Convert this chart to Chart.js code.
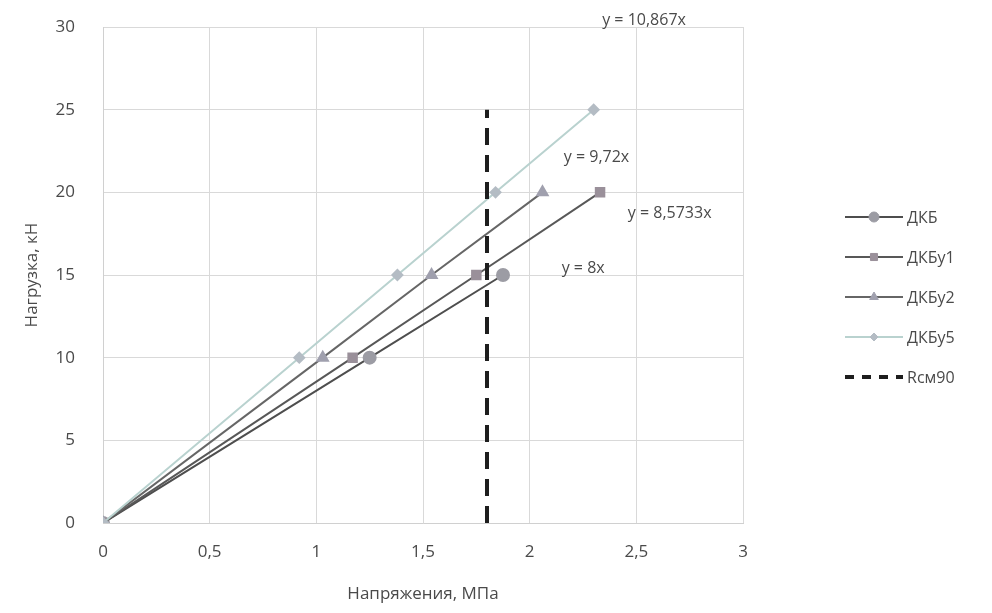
<!DOCTYPE html>
<html lang="ru">
<head>
  <meta charset="UTF-8" />
  <title>Нагрузка – напряжения</title>
  <script src="https://cdn.jsdelivr.net/npm/chart.js@4.4.0/dist/chart.umd.min.js"></script>
  <style>
    html, body { margin: 0; padding: 0; background: #fff; }
    #wrap { width: 992px; height: 613px; position: relative; }
  </style>
</head>
<body>
<div id="wrap"><canvas id="chart"></canvas></div>
<script>
// load steps, kN
const loads = [0, 10, 15, 20, 25];

// stresses, MPa, per specimen
const dkb   = [0, 1.25, 1.875];
const dkbU1 = [0, 1.17, 1.75, 2.33];
const dkbU2 = [0, 1.03, 1.54, 2.06];
const dkbU5 = [0, 0.92, 1.38, 1.84, 2.3];

// Rсм90 limit line
const rcmX = 1.8;
const rcmY = [0, 25];

const seriesNames = ['ДКБ', 'ДКБу1', 'ДКБу2', 'ДКБу5', 'Rсм90'];
const trendTexts = ['y = 8x', 'y = 8,5733x', 'y = 9,72x', 'y = 10,867x'];
// where each trend equation sits (x, y in axis units)
const trendX = [2.15, 2.46, 2.16, 2.34];
const trendY = [15.4, 18.75, 22.1, 30.4];

const xTicks = ['0', '0,5', '1', '1,5', '2', '2,5', '3'];

const FONT = "'Open Sans', 'Liberation Sans', sans-serif";
const TXT = '#4a4a4a';

const toPts = (xs) => xs.map((x, i) => ({ x, y: loads[i] }));

const styles = [
  { line: '#4e4e4e', fill: '#9c9ca4', point: 'circle', r: 6 },
  { line: '#585858', fill: '#9a909a', point: 'rect', r: 6 },
  { line: '#666666', fill: '#a0a0ae', point: 'triangle', r: 6 },
  { line: '#b9d2cf', fill: '#b4bcc4', point: 'rectRot', r: 5 }
];

const datasets = [dkb, dkbU1, dkbU2, dkbU5].map((xs, i) => ({
  label: seriesNames[i],
  data: toPts(xs),
  borderColor: styles[i].line,
  backgroundColor: styles[i].fill,
  pointBackgroundColor: styles[i].fill,
  pointBorderColor: styles[i].fill,
  pointStyle: styles[i].point,
  pointRadius: styles[i].r,
  borderWidth: 2,
  showLine: true,
  order: 4 - i
}));

datasets.push({
  label: seriesNames[4],
  data: rcmY.map(y => ({ x: rcmX, y })),
  borderColor: '#1e1e1e',
  borderWidth: 4,
  borderDash: [17, 10],
  pointRadius: 0,
  showLine: true,
  order: 0
});

// trend equations next to each series
const trendLabels = {
  id: 'trendLabels',
  afterDatasetsDraw(chart) {
    const { ctx, scales: { x, y } } = chart;
    ctx.save();
    ctx.font = '16px ' + FONT;
    ctx.fillStyle = TXT;
    ctx.textBaseline = 'middle';
    trendTexts.forEach((t, i) => {
      ctx.fillText(t, x.getPixelForValue(trendX[i]), y.getPixelForValue(trendY[i]));
    });
    ctx.restore();
  }
};

// Excel-like legend: line sample with marker in the middle
const sideLegend = {
  id: 'sideLegend',
  afterDraw(chart) {
    const { ctx, chartArea } = chart;
    const x0 = chartArea.right + 102;
    const top = 217;
    const step = 40;
    ctx.save();
    chart.data.datasets.forEach((ds, i) => {
      const yy = top + i * step;
      ctx.strokeStyle = ds.borderColor;
      ctx.lineWidth = ds.borderWidth;
      ctx.setLineDash(ds.borderDash ? [9, 8] : []);
      ctx.beginPath();
      ctx.moveTo(x0, yy);
      ctx.lineTo(x0 + 58, yy);
      ctx.stroke();
      ctx.setLineDash([]);
      if (ds.pointRadius) {
        ctx.fillStyle = ds.pointBackgroundColor;
        ctx.strokeStyle = ds.pointBorderColor;
        ctx.lineWidth = 1;
        Chart.helpers.drawPoint(ctx, {
          pointStyle: ds.pointStyle, radius: ds.pointRadius - 1, rotation: 0, borderWidth: 1
        }, x0 + 29, yy);
      }
      ctx.font = '16px ' + FONT;
      ctx.fillStyle = TXT;
      ctx.textBaseline = 'middle';
      ctx.fillText(ds.label, x0 + 62, yy + 1);
    });
    ctx.restore();
  }
};

new Chart(document.getElementById('chart'), {
  type: 'scatter',
  data: { datasets },
  options: {
    responsive: true,
    maintainAspectRatio: false,
    animation: false,
    layout: { padding: { top: 27, right: 249, left: 0, bottom: 0 } },
    plugins: {
      legend: { display: false },
      tooltip: { enabled: false }
    },
    scales: {
      x: {
        type: 'linear',
        min: 0, max: 3,
        afterFit(s) { s.height = 90; s.paddingLeft = 0; s.paddingRight = 0; },
        grid: { color: '#d9d9d9', drawTicks: false },
        border: { color: '#d0d0d0' },
        ticks: {
          stepSize: 0.5,
          padding: 19,
          color: TXT,
          font: { family: FONT, size: 17 },
          callback: (v) => xTicks[Math.round(v * 2)]
        },
        title: {
          display: true,
          text: 'Напряжения, МПа',
          color: TXT,
          font: { family: FONT, size: 17 },
          padding: { top: 0, bottom: 9 }
        }
      },
      y: {
        min: 0, max: 30,
        afterFit(s) { s.width = 103; s.paddingTop = 0; s.paddingBottom = 0; },
        grid: { color: '#d9d9d9', drawTicks: false },
        border: { color: '#d0d0d0' },
        ticks: {
          stepSize: 5,
          padding: 28,
          color: TXT,
          font: { family: FONT, size: 17 }
        },
        title: {
          display: true,
          text: 'Нагрузка, кН',
          color: TXT,
          font: { family: FONT, size: 17 },
          padding: { top: 22, bottom: 0 }
        }
      }
    }
  },
  plugins: [trendLabels, sideLegend]
});
</script>
</body>
</html>
